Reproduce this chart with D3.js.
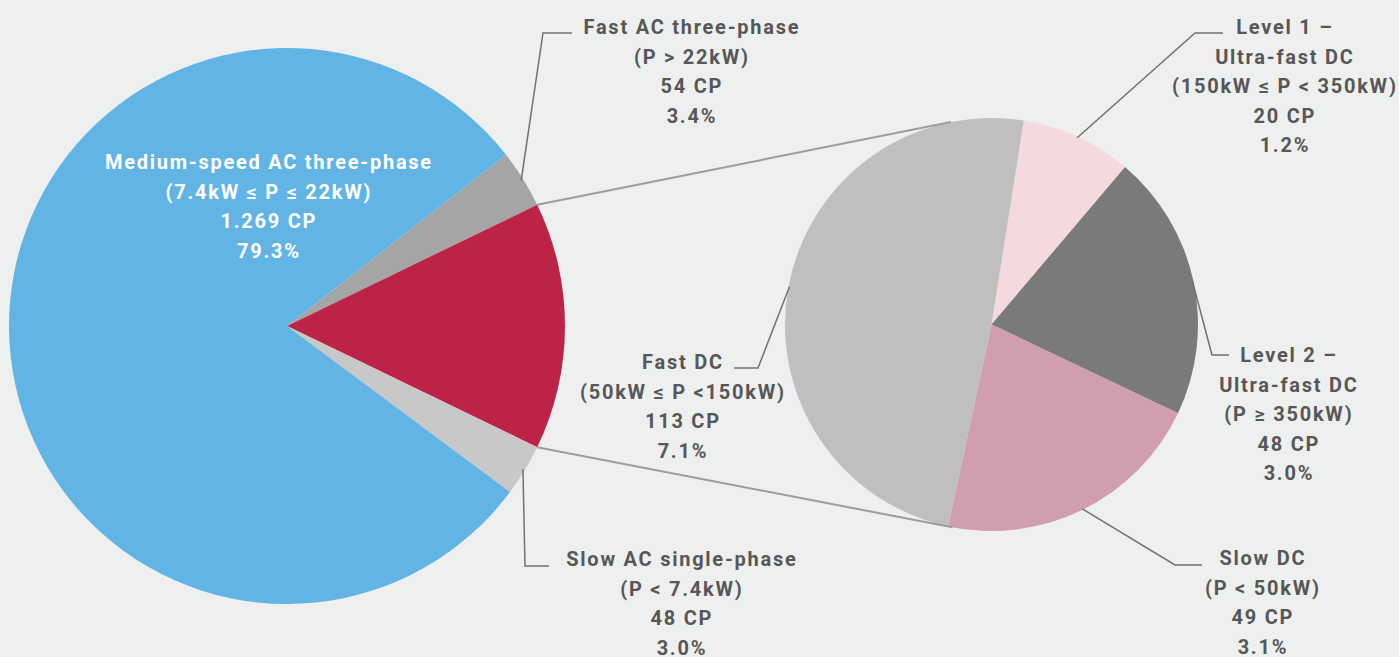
<!DOCTYPE html>
<html>
<head>
<meta charset="utf-8">
<script src="https://cdn.jsdelivr.net/npm/d3@7"></script>
<style>
  html, body { margin: 0; padding: 0; background: #eef0ef; }
  svg { display: block; }
  text { font-family: Roboto, "Open Sans", sans-serif; font-weight: 700; letter-spacing: 1.75px; }
</style>
</head>
<body>
<svg id="chart" width="1399" height="657"></svg>
<script>
// ---------- data ----------
const mainCategories = ["Fast AC three-phase", "Fast DC total", "Slow AC single-phase", "Medium-speed AC three-phase"];
const mainValues = [54, 230, 48, 1269];
const mainColors = ["#a5a5a5", "#bc2347", "#c8c8c8", "#62b4e4"];

const subCategories = ["Level 1 – Ultra-fast DC", "Level 2 – Ultra-fast DC", "Slow DC", "Fast DC"];
const subValues = [20, 48, 49, 113];
const subColors = ["#f4d9df", "#7a7a7a", "#d09eaf", "#bfbfbf"];

const mainLabels = [
  ["Fast AC three-phase", "(P > 22kW)", "54 CP", "3.4%"],
  null,
  ["Slow AC single-phase", "(P < 7.4kW)", "48 CP", "3.0%"],
  ["Medium-speed AC three-phase", "(7.4kW ≤ P ≤ 22kW)", "1.269 CP", "79.3%"]
];
const subLabels = [
  ["Level 1 –", "Ultra-fast DC", "(150kW ≤ P < 350kW)", "20 CP", "1.2%"],
  ["Level 2 –", "Ultra-fast DC", "(P ≥ 350kW)", "48 CP", "3.0%"],
  ["Slow DC", "(P < 50kW)", "49 CP", "3.1%"],
  ["Fast DC", "(50kW ≤ P <150kW)", "113 CP", "7.1%"]
];

// ---------- layout ----------
const W = 1399, H = 657;
const main = { cx: 287, cy: 326, r: 278 };
const sub = { cx: 991.5, cy: 324.5, r: 206.5, rot: 9 * Math.PI / 180 };
const lineH = 29.6;
const fontSize = 20;
const textColor = "#575757";
const leaderColor = "#707070";
const lsShift = 0.9; // compensate trailing letter-spacing when centring

// label placement: text centre x, first-line centre y, elbow point, horizontal end x
const mainLabelLayout = [
  { x: 691, y: 27, elbow: [543, 33], end: 572 },
  null,
  { x: 681, y: 559, elbow: [525, 566], end: 549 },
  { x: 268, y: 162, inside: true }
];
const subLabelLayout = [
  { x: 1284, y: 27, elbow: [1195, 33], end: 1223 },
  { x: 1288, y: 355, elbow: [1212, 355], end: 1229 },
  { x: 1262, y: 558, elbow: [1175, 565], end: 1202 },
  { x: 682, y: 362, elbow: [758, 368], end: 734 }
];

const svg = d3.select("#chart");
svg.append("rect").attr("width", W).attr("height", H).attr("fill", "#eef0ef");

// ---------- main pie ----------
const mainTotal = d3.sum(mainValues);
// rotate so that the "other" slice (index 1) is centred on the right (east)
const mainStart = Math.PI / 2 - (mainValues[0] + mainValues[1] / 2) / mainTotal * 2 * Math.PI;
const mainPie = d3.pie().sort(null).value(d => d)
  .startAngle(mainStart).endAngle(mainStart + 2 * Math.PI);
const mainArcs = mainPie(mainValues);
const mainArc = d3.arc().innerRadius(0).outerRadius(main.r);

const gMain = svg.append("g").attr("transform", `translate(${main.cx},${main.cy})`);
gMain.selectAll("path").data(mainArcs).join("path")
  .attr("d", mainArc)
  .attr("fill", (d, i) => mainColors[i]);

// ---------- sub pie ----------
const subPie = d3.pie().sort(null).value(d => d)
  .startAngle(sub.rot).endAngle(sub.rot + 2 * Math.PI);
const subArcs = subPie(subValues);
const subArc = d3.arc().innerRadius(0).outerRadius(sub.r);
const gSub = svg.append("g").attr("transform", `translate(${sub.cx},${sub.cy})`);
gSub.selectAll("path").data(subArcs).join("path")
  .attr("d", subArc)
  .attr("fill", (d, i) => subColors[i]);

// ---------- connector lines (tangents from the "other" slice edges to sub pie) ----------
function polar(c, r, a) { return [c.cx + r * Math.sin(a), c.cy - r * Math.cos(a)]; }
const other = mainArcs[1];
const pTop = polar(main, main.r, other.startAngle);
const pBot = polar(main, main.r, other.endAngle);
function tangent(p, upper) {
  const dx = sub.cx - p[0], dy = sub.cy - p[1];
  const d = Math.hypot(dx, dy);
  const base = Math.atan2(dy, dx);
  const off = Math.asin(sub.r / d);
  const ang = upper ? base - off : base + off;
  const len = Math.sqrt(d * d - sub.r * sub.r);
  return [p[0] + len * Math.cos(ang), p[1] + len * Math.sin(ang)];
}
const connectors = [[pTop, tangent(pTop, true)], [pBot, tangent(pBot, false)]];
svg.selectAll("line.conn").data(connectors).join("line")
  .attr("class", "conn")
  .attr("x1", d => d[0][0]).attr("y1", d => d[0][1])
  .attr("x2", d => d[1][0]).attr("y2", d => d[1][1])
  .attr("stroke", "#9c9c9c").attr("stroke-width", 2);

// ---------- labels ----------
function drawLabel(lines, lay, anchorPt, color) {
  if (!lines || !lay) return;
  if (!lay.inside) {
    svg.append("polyline")
      .attr("points", [anchorPt, lay.elbow, [lay.end, lay.elbow[1]]].map(p => p.join(",")).join(" "))
      .attr("fill", "none").attr("stroke", leaderColor).attr("stroke-width", 1.5);
  }
  const t = svg.append("text")
    .attr("text-anchor", "middle")
    .attr("font-size", fontSize)
    .attr("fill", color);
  lines.forEach((s, i) => {
    t.append("tspan").attr("x", lay.x + lsShift).attr("y", lay.y + i * lineH + 7).text(s);
  });
}
mainArcs.forEach((a, i) => {
  const mid = (a.startAngle + a.endAngle) / 2;
  drawLabel(mainLabels[i], mainLabelLayout[i], polar(main, main.r - 2, mid),
    mainLabelLayout[i] && mainLabelLayout[i].inside ? "#ffffff" : textColor);
});
subArcs.forEach((a, i) => {
  const mid = (a.startAngle + a.endAngle) / 2;
  drawLabel(subLabels[i], subLabelLayout[i], polar(sub, sub.r - 1, mid), textColor);
});
</script>
</body>
</html>
